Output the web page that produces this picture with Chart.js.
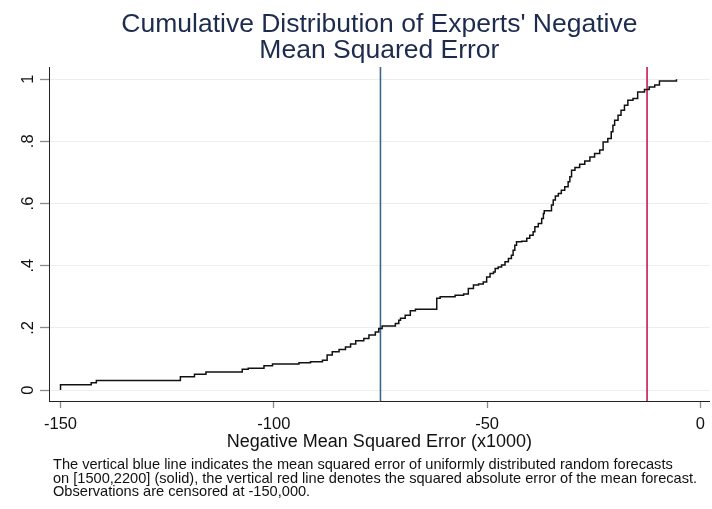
<!DOCTYPE html>
<html>
<head>
<meta charset="utf-8">
<script src="https://cdn.jsdelivr.net/npm/chart.js@4"></script>
<style>
  html, body { margin: 0; padding: 0; background: #fff; }
  canvas { display: block; }
</style>
</head>
<body>
<canvas id="cdfChart" width="712" height="509"></canvas>
<script>
// negative MSE (x1000) where the empirical CDF steps up, and the CDF level after the step
const mseSteps = [-150, -150, -142.8, -141.6, -121.9, -118.6, -115.9, -107.4, -106, -102.3, -100.3, -94.1, -91.4,
  -88.6, -87.5, -86.3, -84.7, -83.2, -82, -80.8, -78.9, -77.7, -76.2, -75.4, -74.6, -71.5, -70.7, -70.3, -69.2,
  -68, -66.8, -61.8, -61, -57.5, -55.5, -54.4, -53.2, -52, -50.9, -50.1, -49.3, -48.5, -48.1, -47.4, -46.6, -45.8,
  -45, -44.3, -43.9, -43.5, -43.1, -41.9, -40.7, -40, -39.2, -38.8, -38, -37.2, -36.8, -36.6, -34.9, -34.5, -34,
  -33.3, -32.6, -31.8, -31, -30.6, -30.2, -29.4, -28.3, -27.1, -25.9, -24.8, -23.6, -22.8, -21.7, -20.9, -20.5,
  -20.1, -19.3, -18.6, -17.8, -17, -15.8, -14.7, -13.1, -12, -10.7, -9.6, -5.6]
const cdfLevels = [0, 0.017, 0.024, 0.031, 0.043, 0.051, 0.058, 0.067, 0.070, 0.078, 0.084, 0.088, 0.091,
  0.096, 0.113, 0.123, 0.131, 0.139, 0.148, 0.159, 0.166, 0.177, 0.187, 0.198, 0.206, 0.214, 0.225, 0.231, 0.241,
  0.255, 0.260, 0.295, 0.300, 0.305, 0.309, 0.327, 0.338, 0.341, 0.348, 0.364, 0.375, 0.380, 0.391, 0.396, 0.402, 0.413,
  0.423, 0.434, 0.450, 0.466, 0.477, 0.479, 0.488, 0.498, 0.509, 0.525, 0.536, 0.552, 0.568, 0.577, 0.595, 0.611, 0.624,
  0.632, 0.643, 0.654, 0.670, 0.686, 0.707, 0.716, 0.726, 0.737, 0.750, 0.761, 0.772, 0.798, 0.809, 0.831, 0.852,
  0.868, 0.884, 0.900, 0.916, 0.932, 0.938, 0.959, 0.967, 0.975, 0.981, 0.994, 1.0]

const randomForecastMse = -75    // blue line
const meanForecastError = -12.5  // red line

const xTickValues = [-150, -100, -50, 0]
const yTickValues = [0, 0.2, 0.4, 0.6, 0.8, 1]
const yTickLabels = ["0", ".2", ".4", ".6", ".8", "1"]

const titleLines = ["Cumulative Distribution of Experts' Negative", "Mean Squared Error"]
const xAxisTitle = "Negative Mean Squared Error (x1000)"
const noteLines = [
  "The vertical blue line indicates the mean squared error of uniformly distributed random forecasts",
  "on [1500,2200] (solid), the vertical red line denotes the squared absolute error of the mean forecast.",
  "Observations are censored at -150,000."
]

const X_MIN = -152.7
const X_MAX = 2.2
const Y_MIN = -0.035
const Y_MAX = 1.039
const FONT = "'Liberation Sans', Arial, sans-serif"

// note under the graph, left aligned like Stata's note()
const notePlugin = {
  id: "note",
  afterDraw(chart) {
    const c = chart.ctx
    c.save()
    c.font = "14.6px " + FONT
    c.fillStyle = "#111"
    c.textAlign = "left"
    c.textBaseline = "alphabetic"
    noteLines.forEach((line, i) => c.fillText(line, 53, 469 + i * 13.5))
    c.restore()
  }
}

const ctx = document.getElementById("cdfChart")

new Chart(ctx, {
  type: "line",
  data: {
    datasets: [
      {
        label: "Experts",
        data: mseSteps.map((x, i) => ({ x, y: cdfLevels[i] })),
        stepped: true,
        borderColor: "#111",
        borderWidth: 1.5,
        pointRadius: 0,
        fill: false,
        order: 0
      },
      {
        label: "Random forecasts",
        data: [{ x: randomForecastMse, y: Y_MIN }, { x: randomForecastMse, y: Y_MAX }],
        borderColor: "#3d6688",
        borderWidth: 1.6,
        pointRadius: 0,
        order: 1
      },
      {
        label: "Mean forecast",
        data: [{ x: meanForecastError, y: Y_MIN }, { x: meanForecastError, y: Y_MAX }],
        borderColor: "#c8184f",
        borderWidth: 1.6,
        pointRadius: 0,
        order: 1
      }
    ]
  },
  options: {
    responsive: false,
    animation: false,
    layout: { padding: { left: 0, right: 0, top: 0, bottom: 56 } },
    scales: {
      x: {
        type: "linear",
        min: X_MIN,
        max: X_MAX,
        afterBuildTicks: (scale) => { scale.ticks = xTickValues.map((v) => ({ value: v })) },
        afterFit: (scale) => { scale.height = 52 },
        border: { display: true, color: "#222", width: 1 },
        grid: { drawOnChartArea: false, drawTicks: true, tickLength: 7, tickColor: "#8a8a8a", tickWidth: 1.3 },
        ticks: {
          color: "#111",
          font: { family: FONT, size: 16.5 },
          padding: 7,
          maxRotation: 0,
          autoSkip: false,
          callback: (v) => String(v)
        },
        title: {
          display: true,
          text: xAxisTitle,
          color: "#111",
          font: { family: FONT, size: 18 },
          padding: { top: 0, bottom: 0 }
        }
      },
      y: {
        type: "linear",
        min: Y_MIN,
        max: Y_MAX,
        afterBuildTicks: (scale) => { scale.ticks = yTickValues.map((v) => ({ value: v })) },
        afterFit: (scale) => { scale.width = 49 },
        border: { display: true, color: "#222", width: 1 },
        grid: { color: "#ededed", lineWidth: 1, tickLength: 9, tickColor: "#8a8a8a", tickWidth: 1.3 },
        ticks: {
          color: "#111",
          font: { family: FONT, size: 16.5 },
          padding: 5,
          minRotation: 90,
          maxRotation: 90,
          crossAlign: "center",
          autoSkip: false,
          callback: (v) => yTickLabels[yTickValues.indexOf(v)]
        }
      }
    },
    plugins: {
      legend: { display: false },
      tooltip: { enabled: false },
      title: {
        display: true,
        fullSize: false,
        text: titleLines,
        color: "#1d2b4f",
        font: { family: FONT, size: 26.5, weight: "normal", lineHeight: 1.0 },
        padding: { top: 11, bottom: 3 }
      }
    }
  },
  plugins: [notePlugin]
})
</script>
</body>
</html>
